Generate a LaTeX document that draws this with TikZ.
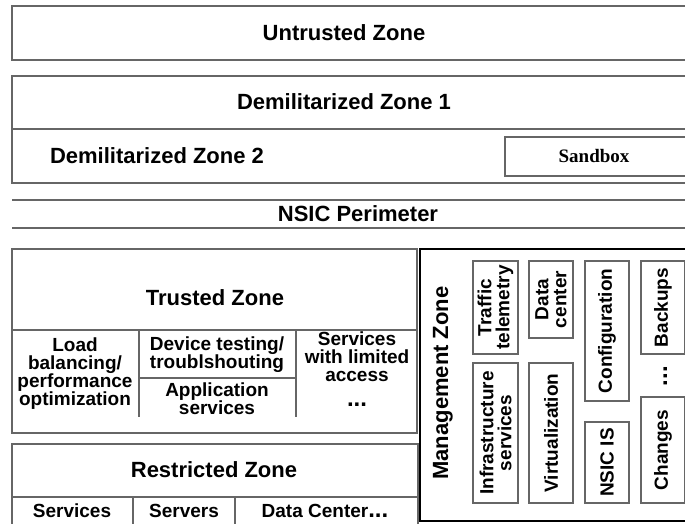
\documentclass[tikz,border=0pt]{standalone}
\usepackage{fontspec}
\setmainfont{Liberation Sans}
\newfontfamily\serifbf{Liberation Serif}
\usetikzlibrary{positioning}

\begin{document}
\begin{tikzpicture}[x=1pt,y=-1pt]
	\tikzstyle{zone}=[draw=black!60, line width=1.3pt]
	\tikzstyle{mzone}=[draw=black, line width=2.2pt]
	\tikzstyle{head}=[font=\bfseries\fontsize{22}{24}\selectfont]
	\tikzstyle{cell}=[font=\bfseries\fontsize{19}{18}\selectfont, align=center, inner sep=0pt]
	\tikzstyle{bigdots}=[font=\bfseries\fontsize{24}{24}\selectfont, inner sep=0pt, text height=4pt, text depth=0pt]
	\tikzstyle{mbox}=[draw=black!60, line width=1.2pt, rotate=90, align=center, inner sep=0pt, font=\bfseries\fontsize{19}{18}\selectfont]

	\useasboundingbox (0,0) rectangle (685,524);
	\clip (0,0) rectangle (685,524);

	%% outer zones
	\draw [zone]  (12,6) rectangle (700,60);
	\node [head] (untrusted) at (344,33) {Untrusted Zone};

	\draw [zone]  (12,76) rectangle (700,183);
	\draw [zone]  (12,129) -- (700,129);
	\node [head] (dmz1) at (344,102) {Demilitarized Zone 1};
	\node [head] (dmz2) at (157,156) {Demilitarized Zone 2};
	\draw [zone]  (505,137) rectangle (700,176);
	\node [font=\serifbf\bfseries\fontsize{19}{20}\selectfont] (sandbox) at (594,156) {Sandbox};

	\draw [zone]  (12,200) -- (700,200);
	\draw [zone]  (12,228) -- (700,228);
	\node [head] (perimeter) at (358,214) {NSIC Perimeter};

	%% trusted zone
	\draw [zone]  (12,249) rectangle (417,433);
	\draw [zone]  (12,330) -- (417,330);
	\draw [zone]  (139,330) -- (139,417);
	\draw [zone]  (296,330) -- (296,417);
	\draw [zone]  (139,378) -- (296,378);
	\node [head] (trusted) at (215,298) {Trusted Zone};
	\node [cell] (balancing) at (75,374) {Load\\balancing/\\performance\\optimization};
	\node [cell] (testing) at (217,355) {Device testing/\\troublshouting};
	\node [cell] (appserv) at (217,399) {Application\\services};
	\node [cell] (limited) at (357,357) {Services\\with limited\\access};
	\node [bigdots] (tdots) at (357,404) {...};

	%% restricted zone
	\draw [zone]  (12,444) rectangle (418,540);
	\draw [zone]  (12,497) -- (418,497);
	\draw [zone]  (133,497) -- (133,540);
	\draw [zone]  (235,497) -- (235,540);
	\node [head] (restricted) at (214,470) {Restricted Zone};
	\node [cell] (services) at (72,511) {Services};
	\node [cell] (servers) at (184,511) {Servers};
	\node [cell] (datacenter) at (325,511) {Data Center\fontsize{24}{24}\selectfont...};

	%% management zone
	\draw [mzone]  (420,249) rectangle (720,521);
	\node [head, rotate=90] (management) at (443,383) {Management Zone};
	\node [mbox, minimum width=93, minimum height=45] (telemetry) at (495.5,307.5) {Traffic\\telemetry};
	\node [mbox, minimum width=140, minimum height=45] (infra) at (495.5,433) {Infrastructure\\services};
	\node [mbox, minimum width=77, minimum height=44] (mdata) at (551,299.5) {Data\\center};
	\node [mbox, minimum width=140, minimum height=44] (virtual) at (551,433) {Virtualization};
	\node [mbox, minimum width=140, minimum height=44] (config) at (607,331) {Configuration};
	\node [mbox, minimum width=81, minimum height=44] (nsicis) at (607,462.5) {NSIC IS};
	\node [mbox, minimum width=93, minimum height=44] (backups) at (663,307.5) {Backups};
	\node [mbox, minimum width=106, minimum height=44] (changes) at (663,450) {Changes};
	\node [bigdots, rotate=90] (mdots) at (665,376) {...};

\end{tikzpicture}
\end{document}
